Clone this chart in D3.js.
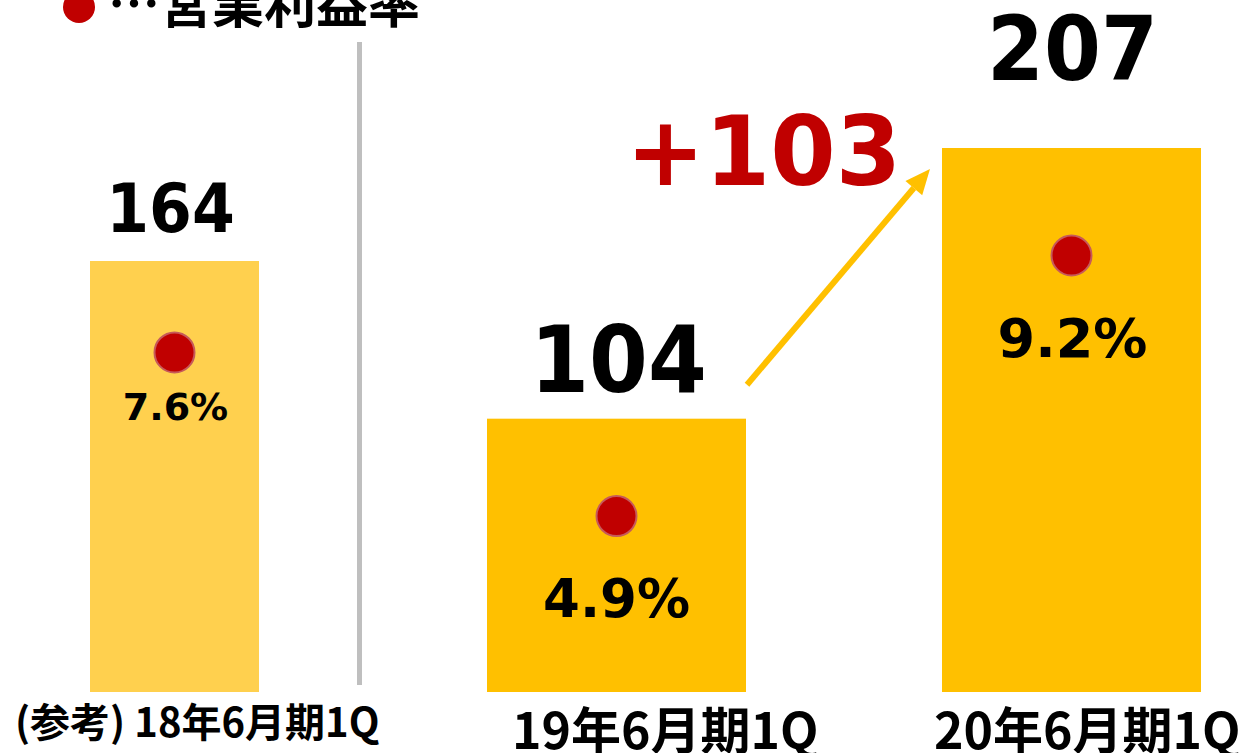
<!DOCTYPE html>
<html>
<head>
<meta charset="utf-8">
<script src="https://cdn.jsdelivr.net/npm/d3@7"></script>
<style>
    body { margin: 0; background: #fff; }
    svg { display: block; }
</style>
</head>
<body>
<script>
// data
var categories = ["(参考) 18年6月期1Q", "19年6月期1Q", "20年6月期1Q"];
var operatingProfit = [164, 104, 207];
var operatingMargin = [7.6, 4.9, 9.2];
var profitLabels = ["164", "104", "207"];
var marginLabels = ["7.6%", "4.9%", "9.2%"];
var diffLabel = "+103";
var legendLabel = "…営業利益率";

var width = 1247, height = 753;
var numFont = "'DejaVu Sans', Verdana, sans-serif";
var jpFont = "'Noto Sans CJK JP', sans-serif";

var svg = d3.select("body").append("svg")
    .attr("width", width)
    .attr("height", height);

// scales
var y = d3.scaleLinear()
    .domain([0, 207])
    .range([692, 148]);

// margin dots sit on their own (hidden) axis
var yPct = d3.scaleLinear()
    .domain([0, 10])
    .range([813, 207]);

var xLeft = d3.scaleOrdinal().domain(categories).range([90, 487, 942]);
var barWidth = d3.scaleOrdinal().domain(categories).range([169, 259, 259]);
var barColor = d3.scaleOrdinal().domain(categories).range(["#FFD04E", "#FFC000", "#FFC000"]);
var labelX = d3.scaleOrdinal().domain(categories).range([15, 512, 934]);

function cx(c) { return xLeft(c) + barWidth(c) / 2; }

// bars
svg.selectAll("rect.bar")
    .data(categories)
    .join("rect")
    .attr("class", "bar")
    .attr("x", function(d) { return xLeft(d); })
    .attr("y", function(d, i) { return y(operatingProfit[i]); })
    .attr("width", function(d) { return barWidth(d); })
    .attr("height", function(d, i) { return y(0) - y(operatingProfit[i]); })
    .attr("fill", function(d) { return barColor(d); });

// separator between reference year and the comparison
svg.append("line")
    .attr("x1", 359.5).attr("x2", 359.5)
    .attr("y1", 42).attr("y2", 685)
    .attr("stroke", "#BFBFBF")
    .attr("stroke-width", 5);

// value labels above bars
var valSize = [67, 92, 89],
    valGap = [29, 27, 68],
    valShift = [-4, 2, 1];

svg.selectAll("text.val")
    .data(categories)
    .join("text")
    .attr("class", "val")
    .attr("transform", function(d, i) {
        return "translate(" + (cx(d) + valShift[i]) + "," + (y(operatingProfit[i]) - valGap[i]) + ") scale(0.92,1)";
    })
    .attr("text-anchor", "middle")
    .style("font-family", numFont)
    .style("font-weight", "bold")
    .style("font-size", function(d, i) { return valSize[i] + "px"; })
    .attr("fill", "#000")
    .text(function(d, i) { return profitLabels[i]; });

// margin dots
svg.selectAll("circle.dot")
    .data(categories)
    .join("circle")
    .attr("class", "dot")
    .attr("cx", function(d) { return cx(d); })
    .attr("cy", function(d, i) { return yPct(operatingMargin[i]); })
    .attr("r", 20)
    .attr("fill", "#C00000")
    .attr("stroke", "#C65A5A")
    .attr("stroke-width", 2);

var pctSize = [38, 53, 54],
    pctGap = [68, 101, 102];

svg.selectAll("text.pct")
    .data(categories)
    .join("text")
    .attr("class", "pct")
    .attr("x", function(d, i) { return cx(d) + (i == 1 ? 0 : 1); })
    .attr("y", function(d, i) { return yPct(operatingMargin[i]) + pctGap[i]; })
    .attr("text-anchor", "middle")
    .style("font-family", numFont)
    .style("font-weight", "bold")
    .style("font-size", function(d, i) { return pctSize[i] + "px"; })
    .attr("fill", "#000")
    .text(function(d, i) { return marginLabels[i]; });

// category labels
svg.selectAll("text.cat")
    .data(categories)
    .join("text")
    .attr("class", "cat")
    .attr("x", function(d) { return labelX(d); })
    .attr("y", function(d, i) { return i == 0 ? 737 : 749; })
    .style("font-family", jpFont)
    .style("font-weight", "bold")
    .style("font-size", function(d, i) { return i == 0 ? "40px" : "50px"; })
    .attr("fill", "#000")
    .text(function(d) { return d; });

// growth arrow from 19 to 20
var c2 = categories[1], c3 = categories[2];
var x0 = xLeft(c2) + barWidth(c2) + 1, y0 = y(operatingProfit[1]) - 34,
    x1 = xLeft(c3) - 12, y1 = y(operatingProfit[2]) + 21;
var ang = Math.atan2(y1 - y0, x1 - x0),
    headLen = 25, headW = 11;
var bx = x1 - headLen * Math.cos(ang), by = y1 - headLen * Math.sin(ang);

svg.append("line")
    .attr("x1", x0).attr("y1", y0)
    .attr("x2", bx).attr("y2", by)
    .attr("stroke", "#FFC000")
    .attr("stroke-width", 6);

svg.append("path")
    .attr("d", "M" + x1 + "," + y1 +
        "L" + (bx + headW * Math.sin(ang)) + "," + (by - headW * Math.cos(ang)) +
        "L" + (bx - headW * Math.sin(ang)) + "," + (by + headW * Math.cos(ang)) + "Z")
    .attr("fill", "#FFC000");

svg.append("text")
    .attr("transform", "translate(" + ((x0 + xLeft(c3)) / 2 - 81) + "," + (y(operatingProfit[2]) + 37) + ") scale(0.98,1)")
    .attr("text-anchor", "middle")
    .style("font-family", numFont)
    .style("font-weight", "bold")
    .style("font-size", "96px")
    .attr("fill", "#C00000")
    .text(diffLabel);

// legend (cut off at top edge)
svg.append("circle")
    .attr("cx", 79).attr("cy", 7)
    .attr("r", 16)
    .attr("fill", "#C00000");

svg.append("text")
    .attr("x", 108).attr("y", 23)
    .style("font-family", jpFont)
    .style("font-weight", "bold")
    .style("font-size", "52px")
    .attr("fill", "#000")
    .text(legendLabel);
</script>
</body>
</html>
